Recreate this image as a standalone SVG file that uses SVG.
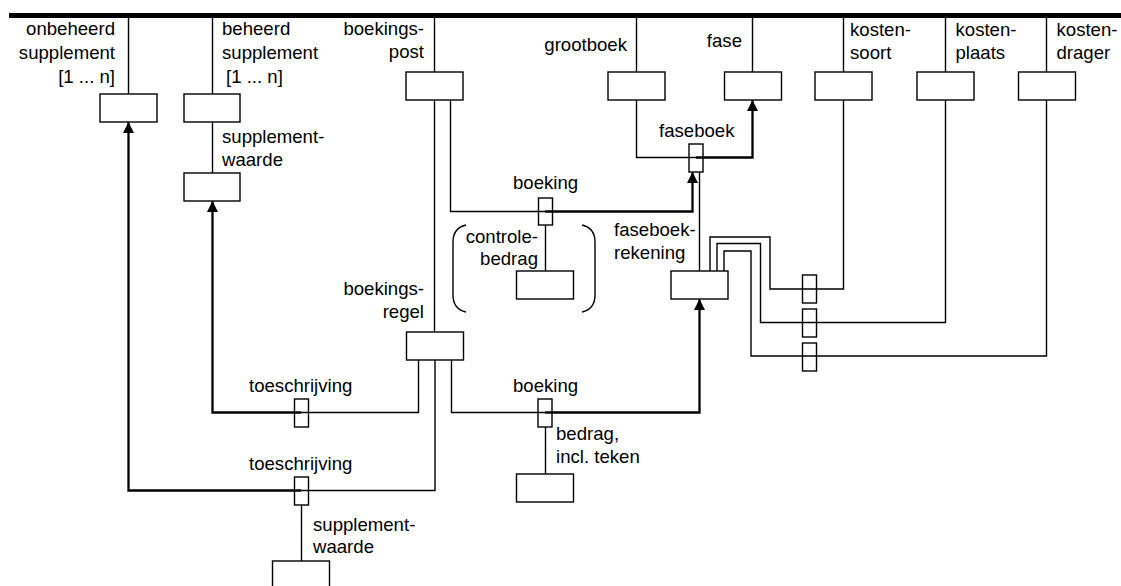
<svg xmlns="http://www.w3.org/2000/svg" width="1121" height="586" viewBox="0 0 1121 586">
  <style>
    .box { fill: none; stroke: #000; stroke-width: 1.4; }
    .thin { fill: none; stroke: #000; stroke-width: 1.4; }
    .thick { fill: none; stroke: #000; stroke-width: 2.3; }
    text { font-family: "Liberation Sans", Arial, sans-serif; font-size: 18.6px; fill: #000; }
    .r { text-anchor: end; }
  </style>
  <defs>
    <marker id="arrow" markerUnits="userSpaceOnUse" viewBox="0 0 11 11" markerWidth="11" markerHeight="11" refX="10.5" refY="5.5" orient="auto">
      <path d="M0,0 L11,5.5 L0,11 z" fill="#000"/>
    </marker>
  </defs>

  <rect id="bar" x="9" y="13" width="1112" height="5" fill="#000"/>

  <g id="connectors">
    <!-- stems from the bar -->
    <path class="thin" d="M128.5,18 V94 M212.5,18 V94 M434.5,18 V72 M636.5,18 V72 M752.5,18 V72 M843.5,18 V72 M945.5,18 V72 M1046.5,18 V72"/>
    <path class="thin" d="M212.5,122 V173"/>
    <path class="thin" d="M434.5,100 V332"/>
    <!-- boeking (boekingspost to faseboek) -->
    <path class="thin" d="M450.5,100 V211.5 H545"/>
    <path class="thick" d="M545,211.5 H692.5 V172.5" marker-end="url(#arrow)"/>
    <!-- faseboek -->
    <path class="thin" d="M636.5,100 V157.5 H696"/>
    <path class="thick" d="M696,157.5 H752.5 V100.5" marker-end="url(#arrow)"/>
    <path class="thin" d="M699.5,172 V271"/>
    <path class="thin" d="M545.5,225 V271"/>
    <!-- faseboekrekening to cost dimensions -->
    <path class="thin" d="M710,271 V237 H770 V289 H843.5 V100"/>
    <path class="thin" d="M717,271 V243.5 H760.5 V322.5 H945.5 V100"/>
    <path class="thin" d="M724,271 V251 H751 V356 H1046.5 V100"/>
    <!-- toeschrijving to beheerd supplement -->
    <path class="thin" d="M418.5,360 V412.5 H301.5"/>
    <path class="thick" d="M301.5,412.5 H212.5 V201.5" marker-end="url(#arrow)"/>
    <!-- toeschrijving to onbeheerd supplement -->
    <path class="thin" d="M435,360 V490.5 H301.5"/>
    <path class="thick" d="M301.5,490.5 H128.5 V122.5" marker-end="url(#arrow)"/>
    <path class="thin" d="M301.5,505 V561"/>
    <!-- boeking (boekingsregel to faseboekrekening) -->
    <path class="thin" d="M451.5,360 V412.5 H545"/>
    <path class="thick" d="M545,412.5 H699.5 V299.5" marker-end="url(#arrow)"/>
    <path class="thin" d="M545.5,427 V474"/>
    <!-- brackets round controlebedrag -->
    <path class="thin" d="M466,225 Q453,228 453,242 V295 Q453,309 466,312"/>
    <path class="thin" d="M582,225 Q595,228 595,242 V295 Q595,309 582,312"/>
  </g>

  <g id="onbeheerd-supplement">
    <rect class="box" x="100" y="94" width="57" height="28"/>
    <text class="r" x="115" y="35">onbeheerd</text>
    <text class="r" x="115" y="59">supplement</text>
    <text class="r" x="115" y="83">[1 ... n]</text>
  </g>
  <g id="beheerd-supplement">
    <rect class="box" x="184" y="94" width="56" height="28"/>
    <text x="222" y="35">beheerd</text>
    <text x="222" y="59">supplement</text>
    <text x="226" y="83">[1 ... n]</text>
  </g>
  <g id="supplementwaarde-top">
    <rect class="box" x="184" y="173" width="56" height="28"/>
    <text x="222" y="143">supplement-</text>
    <text x="222" y="166">waarde</text>
  </g>
  <g id="boekingspost">
    <rect class="box" x="406" y="72" width="57" height="28"/>
    <text class="r" x="424" y="35">boekings-</text>
    <text class="r" x="424" y="58">post</text>
  </g>
  <g id="grootboek">
    <rect class="box" x="608" y="72" width="57" height="28"/>
    <text class="r" x="627" y="51">grootboek</text>
  </g>
  <g id="fase">
    <rect class="box" x="724.5" y="72" width="57" height="28"/>
    <text class="r" x="742" y="47">fase</text>
  </g>
  <g id="kostensoort">
    <rect class="box" x="815" y="72" width="57" height="28"/>
    <text x="850" y="36">kosten-</text>
    <text x="850" y="59">soort</text>
  </g>
  <g id="kostenplaats">
    <rect class="box" x="917" y="72" width="57" height="28"/>
    <text x="955.5" y="36">kosten-</text>
    <text x="955.5" y="59">plaats</text>
  </g>
  <g id="kostendrager">
    <rect class="box" x="1018.5" y="72" width="57" height="28"/>
    <text x="1056.5" y="36">kosten-</text>
    <text x="1056.5" y="59">drager</text>
  </g>
  <g id="faseboek">
    <rect class="box" x="689" y="144" width="14" height="28"/>
    <text x="659" y="137">faseboek</text>
  </g>
  <g id="boeking-post">
    <rect class="box" x="538.5" y="198" width="14" height="27"/>
    <text x="513" y="189">boeking</text>
  </g>
  <g id="controlebedrag">
    <rect class="box" x="516.5" y="271" width="57" height="28"/>
    <text class="r" x="538" y="243">controle-</text>
    <text class="r" x="538" y="265">bedrag</text>
  </g>
  <g id="faseboekrekening">
    <rect class="box" x="671" y="271" width="57" height="28"/>
    <text x="614" y="236">faseboek-</text>
    <text x="614" y="259">rekening</text>
  </g>
  <g id="kosten-koppelingen">
    <rect class="box" x="802.5" y="275" width="14" height="28"/>
    <rect class="box" x="802.5" y="309" width="14" height="28"/>
    <rect class="box" x="802.5" y="343" width="14" height="28"/>
  </g>
  <g id="boekingsregel">
    <rect class="box" x="406.5" y="332" width="57" height="28"/>
    <text class="r" x="424" y="295">boekings-</text>
    <text class="r" x="424" y="318">regel</text>
  </g>
  <g id="toeschrijving-beheerd">
    <rect class="box" x="294.5" y="399" width="14" height="28"/>
    <text x="249" y="392">toeschrijving</text>
  </g>
  <g id="toeschrijving-onbeheerd">
    <rect class="box" x="294.5" y="477" width="14" height="28"/>
    <text x="249" y="470">toeschrijving</text>
  </g>
  <g id="supplementwaarde-bottom">
    <rect class="box" x="272.5" y="561" width="57" height="28"/>
    <text x="313" y="531">supplement-</text>
    <text x="313" y="553">waarde</text>
  </g>
  <g id="boeking-regel">
    <rect class="box" x="538" y="399" width="14" height="28"/>
    <text x="513" y="392">boeking</text>
  </g>
  <g id="bedrag">
    <rect class="box" x="516.5" y="474" width="57" height="28"/>
    <text x="556" y="440">bedrag,</text>
    <text x="556" y="463">incl. teken</text>
  </g>
</svg>
